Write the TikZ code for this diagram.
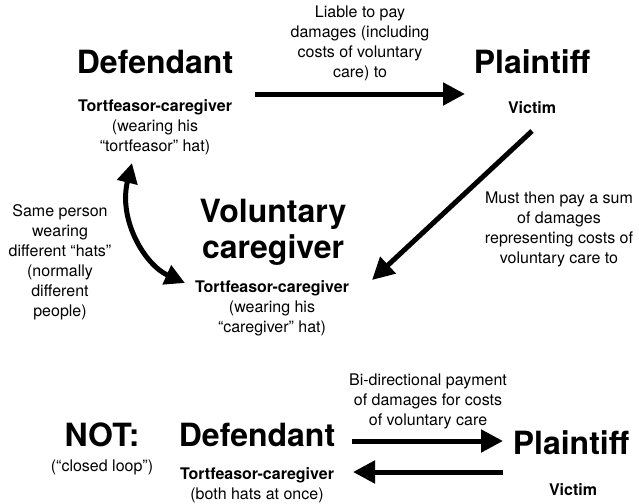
\documentclass[tikz,border=0pt]{standalone}
\usepackage{fontspec}
\setmainfont{TeX Gyre Heros}
\usetikzlibrary{arrows.meta,positioning}

\tikzset{
  title/.style={font=\bfseries\fontsize{32}{36}\selectfont, align=center, inner sep=0pt},
  note/.style={font=\fontsize{16}{20}\selectfont, align=center, inner sep=0pt},
  payarrow/.style={-{Triangle[length=22pt,width=22pt]}, line width=5pt},
  hatarrow/.style={{Triangle[length=20pt,width=20pt]}-{Triangle[length=20pt,width=20pt]}, line width=5pt}
}

\begin{document}
\begin{tikzpicture}[x=1pt,y=-1pt]
\useasboundingbox (0,0) rectangle (639,503);

% top row
\node[title] (deftop) at (155,62) {Defendant};
\node[note] (defsub) at (155,127) {\textbf{Tortfeasor-caregiver}\\(wearing his\\“tortfeasor” hat)};
\node[title] (plaintop) at (532,62) {Plaintiff};
\node[note] (victop) at (532,108) {\textbf{Victim}};
\node[note] (liable) at (360,43) {Liable to pay\\damages (including\\costs of voluntary\\care) to};

% middle
\node[title] (vol) at (273,232) {Voluntary\\caregiver};
\node[note] (volsub) at (272,308) {\textbf{Tortfeasor-caregiver}\\(wearing his\\“caregiver” hat)};
\node[note] (must) at (559,229) {Must then pay a sum\\of damages\\representing costs of\\voluntary care to};
\node[note] (same) at (60,262) {Same person\\wearing\\different “hats”\\(normally\\different\\people)};

% arrow ends
\coordinate (liableA) at (255,94);
\coordinate (liableB) at (465,94);
\coordinate (mustA) at (532,131);
\coordinate (mustB) at (372,280);
\coordinate (hatA) at (132,163);
\coordinate (hatB) at (185,283);

\draw[payarrow] (liableA) -- (liableB);
\draw[payarrow] (mustA) -- (mustB);
\draw[hatarrow] (hatA) .. controls (118,220) and (145,265) .. (hatB);

% closed loop
\node[title] (nope) at (102,435) {NOT:};
\node[note] (loop) at (102,467) {(“closed loop”)};
\node[title] (defbot) at (257,435) {Defendant};
\node[note] (defbotsub) at (257,485) {\textbf{Tortfeasor-caregiver}\\(both hats at once)};
\node[title] (plainbot) at (571,443) {Plaintiff};
\node[note] (vicbot) at (573,490) {\textbf{Victim}};
\node[note] (bidir) at (428,401) {Bi-directional payment\\of damages for costs\\of voluntary care};

\coordinate (toA) at (352,441);
\coordinate (toB) at (503,441);
\coordinate (froA) at (503,472);
\coordinate (froB) at (353,472);

\draw[payarrow] (toA) -- (toB);
\draw[payarrow] (froA) -- (froB);
\end{tikzpicture}
\end{document}
